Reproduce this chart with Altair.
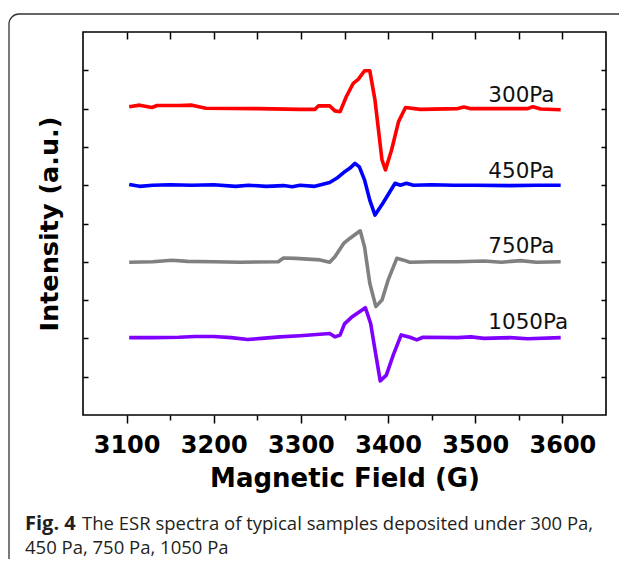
import altair as alt
import pandas as pd

# ---- data ----
series_names = ["300Pa", "450Pa", "750Pa", "1050Pa"]
series_colors = ["#ff0000", "#0000ff", "#808080", "#7f00ff"]

g_300 = [3103, 3115, 3129, 3135, 3160, 3175, 3191, 3250, 3299, 3316, 3320, 3333, 3339, 3345, 3352, 3360,
         3366, 3373, 3379, 3385, 3393, 3397, 3404, 3412, 3420, 3437, 3480, 3487, 3494, 3530, 3560, 3566,
         3575, 3598]
v_300 = [8.05, 8.09, 8.03, 8.08, 8.08, 8.09, 8.01, 8.0, 7.98, 7.98, 8.07, 8.07, 7.94, 7.92, 8.31, 8.66,
         8.77, 8.99, 8.99, 8.22, 6.66, 6.40, 6.92, 7.66, 8.03, 7.98, 8.0, 8.04, 8.0, 8.0, 8.0, 8.05,
         7.99, 7.97]

g_450 = [3103, 3115, 3130, 3150, 3175, 3200, 3225, 3240, 3260, 3280, 3290, 3299, 3316, 3333, 3341, 3349,
         3356, 3362, 3367, 3373, 3379, 3385, 3394, 3408, 3414, 3421, 3429, 3450, 3475, 3500, 3540, 3570,
         3598]
v_450 = [6.02, 5.97, 6.0, 6.01, 6.0, 6.01, 5.97, 6.0, 5.97, 5.99, 5.96, 6.0, 5.97, 6.07, 6.18, 6.33,
         6.44, 6.57, 6.48, 6.14, 5.61, 5.22, 5.53, 6.05, 6.0, 6.05, 6.0, 6.01, 6.0, 6.0, 5.99, 6.0,
         6.0]

g_750 = [3103, 3130, 3152, 3170, 3200, 3230, 3274, 3280, 3294, 3322, 3333, 3339, 3349, 3356, 3368, 3373,
         3379, 3386, 3393, 3400, 3410, 3417, 3425, 3450, 3480, 3510, 3530, 3552, 3570, 3598]
v_750 = [3.99, 4.0, 4.04, 4.01, 4.0, 3.99, 4.0, 4.1, 4.09, 4.05, 3.99, 4.13, 4.48, 4.61, 4.81, 4.39,
         3.44, 2.83, 3.0, 3.52, 4.09, 4.05, 3.99, 4.0, 4.0, 4.02, 3.99, 4.03, 3.99, 4.0]

g_1050 = [3103, 3130, 3160, 3179, 3200, 3220, 3239, 3255, 3276, 3299, 3333, 3339, 3345, 3350, 3358, 3374,
          3380, 3385, 3391, 3398, 3406, 3415, 3425, 3433, 3440, 3480, 3495, 3510, 3540, 3560, 3598]
v_1050 = [2.02, 2.02, 2.03, 2.05, 2.05, 2.02, 1.97, 2.0, 2.04, 2.07, 2.13, 2.04, 2.09, 2.38, 2.55, 2.80,
          2.39, 1.70, 0.89, 1.04, 1.57, 2.09, 2.03, 1.96, 2.03, 2.02, 2.04, 2.0, 2.02, 1.99, 2.02]

label_x = [3515, 3515, 3515, 3515]
label_y = [8.18, 6.18, 4.24, 2.24]

x_major = [3100, 3200, 3300, 3400, 3500, 3600]
x_minor = [3150, 3250, 3350, 3450, 3550]
x_all = [3100, 3150, 3200, 3250, 3300, 3350, 3400, 3450, 3500, 3550, 3600]
y_ticks = [1, 2, 3, 4, 5, 6, 7, 8, 9]
x_domain = [3050, 3650]
y_domain = [0, 10]

caption_bold = "Fig. 4"
caption_rest = "The ESR spectra of typical samples deposited under 300 Pa,"
caption_line2 = "450 Pa, 750 Pa, 1050 Pa"

# ---- tables ----
frames = []
for name, g, v in zip(series_names, [g_300, g_450, g_750, g_1050], [v_300, v_450, v_750, v_1050]):
    frames.append(pd.DataFrame({"field": g, "intensity": v, "series": name}))
lines_df = pd.concat(frames, ignore_index=True)
labels_df = pd.DataFrame({"field": label_x, "intensity": label_y, "series": series_names})

W, H = 523, 383
xs = alt.Scale(domain=x_domain, nice=False, zero=False)
ys = alt.Scale(domain=y_domain, nice=False, zero=False)
cs = alt.Scale(domain=series_names, range=series_colors)

BF = "DejaVu Sans"

lines = alt.Chart(lines_df).mark_line(strokeWidth=3.6, strokeJoin="round").encode(
    x=alt.X("field:Q", scale=xs, axis=alt.Axis(
        orient="bottom", values=x_major, format="d", tickSize=8, tickWidth=1.5, tickColor="black",
        labelFont=BF, labelFontWeight="bold", labelFontSize=24, labelColor="black", labelPadding=10,
        domain=False, grid=False, title="Magnetic Field (G)", titleFont=BF, titleFontSize=26,
        titleFontWeight="bold", titleColor="black", titlePadding=8)),
    y=alt.Y("intensity:Q", scale=ys, axis=alt.Axis(
        orient="left", ticks=False, labels=False, domain=False, grid=False,
        title="Intensity (a.u.)", titleFont=BF, titleFontSize=25.5, titleFontWeight="bold",
        titleColor="black", titlePadding=21)),
    color=alt.Color("series:N", scale=cs, legend=None),
    detail="series:N",
)

labels = alt.Chart(labels_df).mark_text(
    font=BF, fontSize=21.5, align="left", baseline="alphabetic", color="#111111"
).encode(
    x=alt.X("field:Q", scale=xs, axis=alt.Axis(
        orient="bottom", values=x_minor, tickSize=5, tickWidth=1.5, tickColor="black",
        labels=False, domain=False, grid=False, title="")),
    y=alt.Y("intensity:Q", scale=ys, axis=alt.Axis(
        orient="left", offset=-W, values=y_ticks, tickSize=5, tickWidth=1.5, tickColor="black",
        labels=False, domain=False, grid=False, title="")),
    text="series:N",
)

inner_ticks = alt.Chart(labels_df).mark_point(opacity=0).encode(
    x=alt.X("field:Q", scale=xs, axis=alt.Axis(
        orient="bottom", offset=-H, values=x_all, tickSize=7, tickWidth=1.5, tickColor="black",
        labels=False, domain=False, grid=False, title="")),
    y=alt.Y("intensity:Q", scale=ys, axis=alt.Axis(
        orient="right", offset=-W, values=y_ticks, tickSize=5, tickWidth=1.5, tickColor="black",
        labels=False, domain=False, grid=False, title="")),
)

one = alt.Data(values=[{"k": 1}])

frame = alt.Chart(one).mark_rect(
    fillOpacity=0, stroke="#333333", strokeWidth=1.3, cornerRadius=10
).encode(x=alt.value(-74), x2=alt.value(548), y=alt.value(-18), y2=alt.value(620))

cap1 = alt.Chart(one).mark_text(
    text=caption_bold, font="Open Sans", fontSize=20, fontWeight="bold",
    align="left", baseline="alphabetic", color="#231f20"
).encode(x=alt.value(-58), y=alt.value(498))

cap2 = alt.Chart(one).mark_text(
    text=caption_rest, font="Open Sans", fontSize=18.5,
    align="left", baseline="alphabetic", color="#231f20"
).encode(x=alt.value(-1), y=alt.value(498))

cap3 = alt.Chart(one).mark_text(
    text=caption_line2, font="Open Sans", fontSize=18.5,
    align="left", baseline="alphabetic", color="#231f20"
).encode(x=alt.value(-58), y=alt.value(522))

chart = alt.layer(lines, labels, inner_ticks, frame, cap1, cap2, cap3).resolve_axis(
    x="independent", y="independent"
).properties(
    width=W, height=H,
    padding={"left": 75, "top": 24, "right": 13, "bottom": 144},
    autosize=alt.AutoSizeParams(type="none"),
).configure_view(stroke="black", strokeWidth=1.6)

chart.save("out.html", embed_options={"renderer": "svg", "actions": False})
